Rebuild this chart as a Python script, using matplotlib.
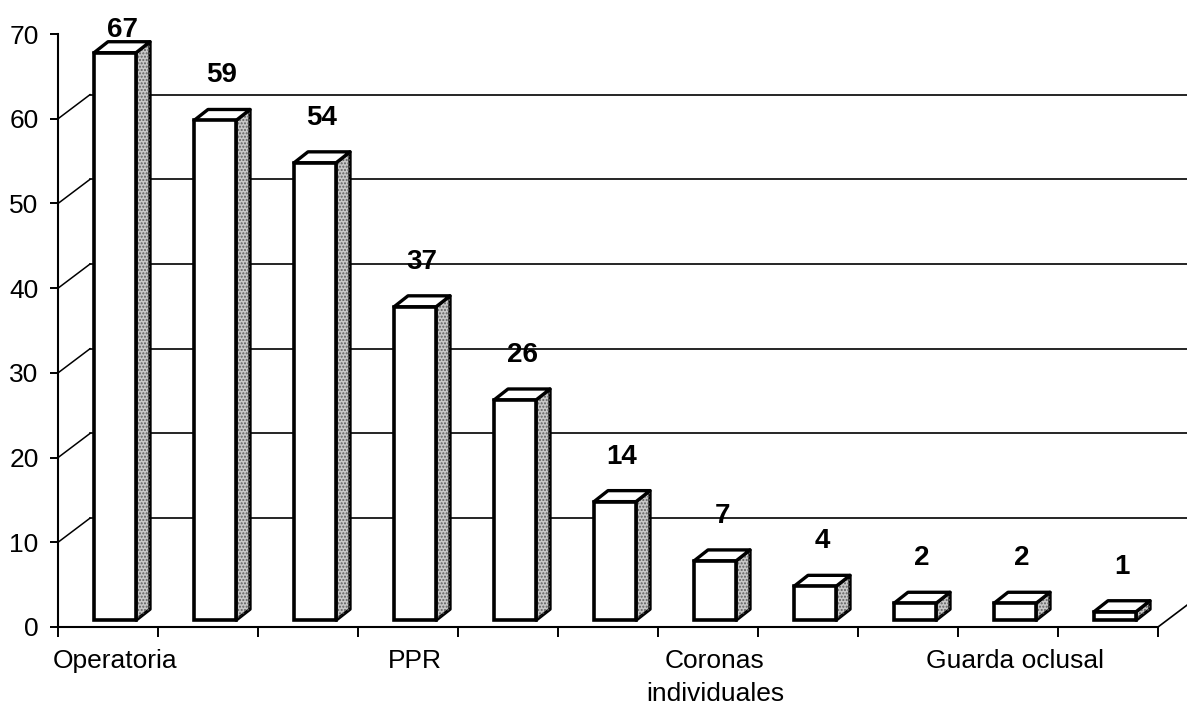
import matplotlib
matplotlib.use("Agg")
import matplotlib.pyplot as plt
from matplotlib.patches import Polygon

plt.rcParams['font.family'] = ['Liberation Sans', 'DejaVu Sans']

# ---- data ----
categories = ["Operatoria", "", "", "PPR", "", "", "Coronas\nindividuales", "", "", "Guarda oclusal", ""]
values = [67, 59, 54, 37, 26, 14, 7, 4, 2, 2, 1]
yticks = [0, 10, 20, 30, 40, 50, 60, 70]

# ---- layout / style ----
W, H = 1187, 705
BOT = 78            # px from bottom of figure to the floor edge
SCALE = 8.47        # px per unit
fig = plt.figure(figsize=(W / 100, H / 100), dpi=100)
ax = fig.add_axes([58 / W, BOT / H, (W - 58) / W, (H - BOT) / H])
ax.set_xlim(0, (W - 58) / 100)
ax.set_ylim(0, (H - BOT) / SCALE)

depth_dx, depth_dy = 0.32, 2.85     # back-wall offset (data units)
bar_dx, bar_dy = 0.14, 1.3          # bar depth
base = 0.8                          # bar base above the floor edge
bar_w = 0.42
bar_off = 0.36

# back wall gridlines and connectors
for v in yticks[1:-1]:
    ax.plot([0, depth_dx], [v, v + depth_dy], color='black', lw=1.1, zorder=1)
    ax.plot([depth_dx, ax.get_xlim()[1]], [v + depth_dy, v + depth_dy],
            color='black', lw=1.2, zorder=1)
n = len(values)
ax.plot([n, n + depth_dx], [0, depth_dy], color='black', lw=1.2, zorder=1, clip_on=False)

# bars: front face
xs = [i + bar_off + bar_w / 2 for i in range(n)]
bars = ax.bar(xs, values, width=bar_w, bottom=base, facecolor='white',
              edgecolor='black', linewidth=2.6, zorder=3)

for rect, v in zip(bars, values):
    x0 = rect.get_x()
    x1 = x0 + rect.get_width()
    b = rect.get_y()
    t = b + rect.get_height()
    side = [(x1, b), (x1 + bar_dx, b + bar_dy), (x1 + bar_dx, t + bar_dy), (x1, t)]
    ax.add_patch(Polygon(side, closed=True, facecolor='#c8c8c8', edgecolor='black',
                         lw=2.4, zorder=2.5, joinstyle='round'))
    ax.add_patch(Polygon(side, closed=True, fill=False, hatch='.....',
                         edgecolor='#5e5e5e', lw=0, zorder=2.6))
    top = [(x0, t), (x1, t), (x1 + bar_dx, t + bar_dy), (x0 + bar_dx, t + bar_dy)]
    ax.add_patch(Polygon(top, closed=True, facecolor='white', edgecolor='black',
                         lw=2.4, zorder=2.7, joinstyle='round'))
    ly = min(t + bar_dy + 3.2, 69.7)
    ax.text(x0 + bar_w / 2 + bar_dx / 2, ly, str(v), ha='center', va='baseline',
            fontsize=20, fontweight='bold', zorder=5)

# axes styling
for s in ['top', 'right']:
    ax.spines[s].set_visible(False)
ax.spines['left'].set_bounds(0, 70)
ax.spines['bottom'].set_bounds(0, n)
ax.spines['left'].set_linewidth(1.5)
ax.spines['bottom'].set_linewidth(1.5)
ax.spines['left'].set_zorder(4)
ax.spines['bottom'].set_zorder(4)

ax.set_yticks(yticks)
ax.set_yticklabels([str(t) for t in yticks])
ax.tick_params(axis='y', length=6, width=1.4, pad=8, labelsize=19)

ax.set_xticks(range(n + 1))
ax.set_xticklabels([''] * (n + 1))
ax.tick_params(axis='x', which='major', length=7, width=1.4)

label_pos = [i + bar_off + bar_w / 2 for i, c in enumerate(categories) if c]
label_txt = [c for c in categories if c]
ax.set_xticks(label_pos, minor=True)
ax.set_xticklabels(label_txt, minor=True, fontsize=19, linespacing=1.45)
ax.tick_params(axis='x', which='minor', length=0, pad=16)

fig.savefig('out.png', dpi=100)
